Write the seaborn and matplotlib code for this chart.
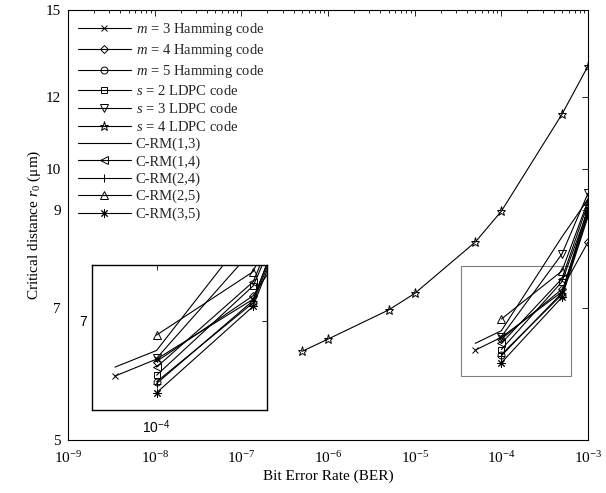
import matplotlib
matplotlib.use("Agg")
import matplotlib.pyplot as plt
import seaborn as sns
import pandas as pd
from matplotlib.ticker import FixedLocator, FixedFormatter, LogLocator, NullFormatter, NullLocator
from matplotlib.patches import Rectangle

# Bit error rates at which each code was evaluated
ber_short = [1e-4, 5e-4, 1e-3]
ber_ext = [5e-5, 1e-4, 5e-4, 1e-3]
ber_long = [5e-7, 1e-6, 5e-6, 1e-5, 5e-5, 1e-4, 5e-4, 1e-3]

# Critical distance r0 (um) for each code
r_hamming_m3 = [6.29, 6.50, 7.30, 8.95]
r_hamming_m4 = [6.47, 7.35, 8.29]
r_hamming_m5 = [6.22, 7.25, 8.90]
r_ldpc_s2 = [6.30, 7.49, 9.00]
r_ldpc_s3 = [6.51, 8.04, 9.39]
r_ldpc_s4 = [6.27, 6.47, 6.97, 7.27, 8.29, 8.97, 11.49, 13.0]
r_crm13 = [6.40, 6.61, 8.40, 9.25]
r_crm14 = [6.40, 7.55, 9.15]
r_crm24 = [6.20, 7.28, 9.05]
r_crm25 = [6.81, 7.70, 9.21]
r_crm35 = [6.09, 7.20, 8.85]

y_ticks = [5, 7, 9, 10, 12, 15]
y_tick_labels = ["5", "7", "9", "10", "12", "15"]
x_ticks = [1e-9, 1e-8, 1e-7, 1e-6, 1e-5, 1e-4, 1e-3]
x_tick_labels = [r"$10^{-9}$", r"$10^{-8}$", r"$10^{-7}$", r"$10^{-6}$",
                 r"$10^{-5}$", r"$10^{-4}$", r"$10^{-3}$"]

series = [
    (r"$m$ = 3 Hamming code", ber_ext, r_hamming_m3, "x"),
    (r"$m$ = 4 Hamming code", ber_short, r_hamming_m4, "D"),
    (r"$m$ = 5 Hamming code", ber_short, r_hamming_m5, "o"),
    (r"$s$ = 2 LDPC code", ber_short, r_ldpc_s2, "s"),
    (r"$s$ = 3 LDPC code", ber_short, r_ldpc_s3, "v"),
    (r"$s$ = 4 LDPC code", ber_long, r_ldpc_s4, "*"),
    ("C-RM(1,3)", ber_ext, r_crm13, None),
    ("C-RM(1,4)", ber_short, r_crm14, "<"),
    ("C-RM(2,4)", ber_short, r_crm24, "+"),
    ("C-RM(2,5)", ber_short, r_crm25, "^"),
    ("C-RM(3,5)", ber_short, r_crm35, (8, 2, 0)),
]

sns.set_theme(style="white")
plt.rcParams["font.family"] = ["Liberation Serif", "DejaVu Serif"]
plt.rcParams["mathtext.fontset"] = "custom"
plt.rcParams["mathtext.rm"] = "Liberation Serif"
plt.rcParams["mathtext.it"] = "Liberation Serif:italic"
plt.rcParams["mathtext.sf"] = "Liberation Sans"

marker_size = {"x": 5, "D": 4, "o": 5, "s": 5, "v": 5.5, "*": 6.5,
               "<": 5.5, "+": 6, "^": 5.5}


def draw_series(ax, with_labels):
    for label, x, y, mk in series:
        df = pd.DataFrame({"BER": x, "r0": y})
        kw = dict(color="black", linewidth=0.8)
        if mk is not None:
            kw.update(marker=mk, markersize=marker_size.get(mk, 6) if isinstance(mk, str) else 6,
                      markerfacecolor="none", markeredgecolor="black",
                      markeredgewidth=0.7)
        sns.lineplot(data=df, x="BER", y="r0", ax=ax,
                     label=label if with_labels else None, legend=False, **kw)


fig = plt.figure(figsize=(6.06, 4.93), dpi=100)
ax = fig.add_axes([68 / 606, 1 - 440 / 493, 520 / 606, 430 / 493])

draw_series(ax, True)

ax.set_xscale("log")
ax.set_yscale("log")
ax.set_xlim(1e-9, 1e-3)
ax.set_ylim(5, 15)

ax.xaxis.set_major_locator(FixedLocator(x_ticks))
ax.xaxis.set_major_formatter(FixedFormatter(x_tick_labels))
ax.xaxis.set_minor_locator(LogLocator(base=10, subs=range(2, 10), numticks=50))
ax.xaxis.set_minor_formatter(NullFormatter())
ax.yaxis.set_major_locator(FixedLocator(y_ticks))
ax.yaxis.set_major_formatter(FixedFormatter(y_tick_labels))
ax.yaxis.set_minor_locator(NullLocator())

ax.tick_params(axis="both", which="both", direction="in", top=True, right=True,
               colors="black", labelsize=11, width=0.6)
ax.tick_params(axis="both", which="major", length=4)
ax.tick_params(axis="x", which="major", pad=7)
ax.tick_params(axis="y", which="major", pad=5)
ax.tick_params(axis="x", which="minor", length=2.5)
for s in ax.spines.values():
    s.set_color("black")
    s.set_linewidth(0.8)

ax.set_xlabel("Bit Error Rate (BER)", fontsize=11, color="black", labelpad=3)
ax.set_ylabel(r"Critical distance $r_0$ ($\mathrm{\mu}$m)", fontsize=11, color="black", labelpad=2)

ax.legend(loc="upper left", bbox_to_anchor=(0.0, 0.998), frameon=False, fontsize=10.5,
          handlelength=3.6, labelspacing=0.27, handletextpad=0.35, borderaxespad=0.3)

# Zoom window drawn on the main axes
zx0, zx1 = 3.41e-5, 6.3e-4
zy0, zy1 = 5.89, 7.8
ax.add_patch(Rectangle((zx0, zy0), zx1 - zx0, zy1 - zy0, fill=False,
                       edgecolor="#7f7f7f", linewidth=0.8, zorder=1))

# Magnified inset of the zoom window
axin = fig.add_axes([92 / 606, 1 - 410 / 493, 175 / 606, 145 / 493])
draw_series(axin, False)
axin.set_xscale("log")
axin.set_yscale("log")
axin.set_xlim(zx0, zx1)
axin.set_ylim(zy0, zy1)
axin.set_xlabel("")
axin.set_ylabel("")
axin.xaxis.set_major_locator(FixedLocator([1e-4]))
axin.xaxis.set_major_formatter(FixedFormatter([r"$\mathsf{10}^{\mathsf{-4}}$"]))
axin.xaxis.set_minor_locator(NullLocator())
axin.yaxis.set_major_locator(FixedLocator([7]))
axin.yaxis.set_major_formatter(FixedFormatter([r"$\mathsf{7}$"]))
axin.yaxis.set_minor_locator(NullLocator())
axin.tick_params(axis="both", which="major", direction="in", top=True, right=True,
                 length=3.5, width=0.6, labelsize=10, colors="black")
axin.tick_params(axis="y", pad=3)
axin.tick_params(axis="x", pad=6)
for s in axin.spines.values():
    s.set_color("black")
    s.set_linewidth(1.0)
axin.set_facecolor("white")

fig.savefig("out.png", dpi=100)
